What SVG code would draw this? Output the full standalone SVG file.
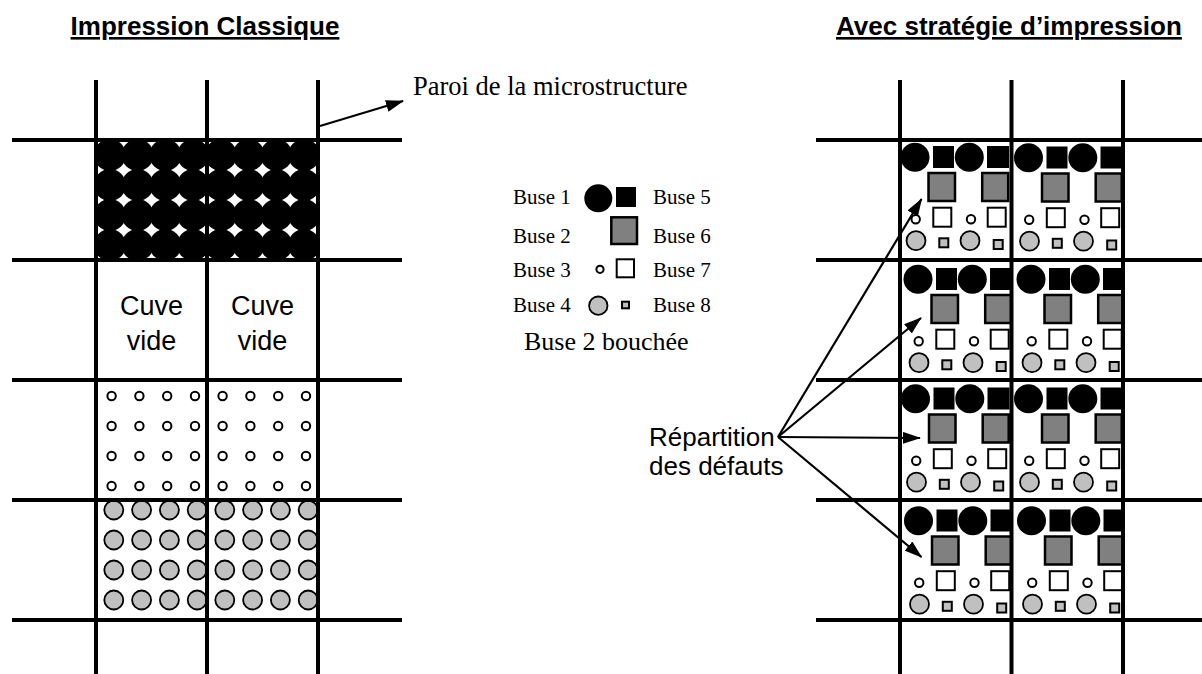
<svg xmlns="http://www.w3.org/2000/svg" xmlns:xlink="http://www.w3.org/1999/xlink" width="1202" height="674" viewBox="0 0 1202 674">
<style>
.grid line{stroke:#000;stroke-width:4;fill:none}
.conn{stroke:#000;stroke-width:2.2;fill:none;marker-end:url(#ah)}
.sans{font-family:"Liberation Sans",Arial,sans-serif;fill:#000}
.serif{font-family:"Liberation Serif","Times New Roman",serif;fill:#000}
.title{font-weight:bold;font-size:26px;text-decoration:underline}
.blk{fill:#000}
.wc{fill:#fff;stroke:#000;stroke-width:2}
.gc{fill:#c0c0c0;stroke:#000;stroke-width:1.8}
.gs{fill:#808080;stroke:#000;stroke-width:2.5}
.ws{fill:#fff;stroke:#000;stroke-width:2}
.sgs{fill:#c0c0c0;stroke:#000;stroke-width:2}
</style>
<defs>
<marker id="ah" markerUnits="userSpaceOnUse" markerWidth="18" markerHeight="12" viewBox="0 0 18 12" refX="17" refY="6" orient="auto"><path d="M0,0 L18,6 L0,12 z" fill="#000"/></marker>
<clipPath id="clipBlack"><rect x="96" y="140" width="222" height="120"/></clipPath>
<clipPath id="clipGray"><rect x="96" y="500" width="222" height="120"/></clipPath>
<clipPath id="cc"><rect x="0" y="0" width="111.5" height="120"/></clipPath>
<g id="blkrow"><circle cx="13.9" cy="0" r="16"/><circle cx="41.6" cy="0" r="16"/><circle cx="69.4" cy="0" r="16"/><circle cx="97.1" cy="0" r="16"/></g>
<g id="wrow"><circle cx="15.6" cy="0" r="4.2"/><circle cx="43.4" cy="0" r="4.2"/><circle cx="71.2" cy="0" r="4.2"/><circle cx="99" cy="0" r="4.2"/></g>
<g id="grow"><circle cx="17.8" cy="0" r="9.5"/><circle cx="45.6" cy="0" r="9.5"/><circle cx="73.4" cy="0" r="9.5"/><circle cx="101.2" cy="0" r="9.5"/></g>
<g id="pat">
<circle class="blk" cx="15" cy="17.3" r="14.5"/>
<rect class="blk" x="33" y="6" width="21" height="22"/>
<circle class="blk" cx="69.3" cy="17.3" r="14.5"/>
<rect class="blk" x="87" y="6" width="22" height="22"/>
<rect class="gs" x="28.5" y="33" width="26.5" height="28"/>
<rect class="gs" x="82.2" y="33" width="26" height="28"/>
<circle class="wc" cx="15.7" cy="79.3" r="4.2"/>
<rect class="ws" x="33.3" y="67.7" width="18" height="19"/>
<circle class="wc" cx="71" cy="79.3" r="4.2"/>
<rect class="ws" x="87.7" y="67.7" width="18" height="19"/>
<circle class="gc" cx="16" cy="100.7" r="9.5"/>
<rect class="sgs" x="39.3" y="98.3" width="9" height="9"/>
<circle class="gc" cx="70" cy="100.7" r="9.5"/>
<rect class="sgs" x="93.7" y="100" width="9" height="9"/>
</g>
</defs>
<rect width="1202" height="674" fill="#fff"/>

<g id="title-left"><text class="sans title" x="205" y="35" text-anchor="middle">Impression Classique</text></g>
<g id="title-right"><text class="sans title" x="836" y="35">Avec stratégie d’impression</text></g>

<g id="left-black" clip-path="url(#clipBlack)" class="blk">
<use xlink:href="#blkrow" x="96" y="155"/><use xlink:href="#blkrow" x="96" y="185"/><use xlink:href="#blkrow" x="96" y="215"/><use xlink:href="#blkrow" x="96" y="245"/>
<use xlink:href="#blkrow" x="207" y="155"/><use xlink:href="#blkrow" x="207" y="185"/><use xlink:href="#blkrow" x="207" y="215"/><use xlink:href="#blkrow" x="207" y="245"/>
</g>
<g id="left-empty">
<text class="sans" font-size="27" x="151.5" y="315" text-anchor="middle">Cuve</text>
<text class="sans" font-size="27" x="151.5" y="350" text-anchor="middle">vide</text>
<text class="sans" font-size="27" x="262.5" y="315" text-anchor="middle">Cuve</text>
<text class="sans" font-size="27" x="262.5" y="350" text-anchor="middle">vide</text>
</g>
<g id="left-white" class="wc">
<use xlink:href="#wrow" x="96" y="396"/><use xlink:href="#wrow" x="96" y="426"/><use xlink:href="#wrow" x="96" y="456"/><use xlink:href="#wrow" x="96" y="486"/>
<use xlink:href="#wrow" x="207" y="396"/><use xlink:href="#wrow" x="207" y="426"/><use xlink:href="#wrow" x="207" y="456"/><use xlink:href="#wrow" x="207" y="486"/>
</g>
<g id="left-gray" class="gc" clip-path="url(#clipGray)">
<use xlink:href="#grow" x="96" y="510"/><use xlink:href="#grow" x="96" y="540"/><use xlink:href="#grow" x="96" y="570"/><use xlink:href="#grow" x="96" y="600"/>
<use xlink:href="#grow" x="207" y="510"/><use xlink:href="#grow" x="207" y="540"/><use xlink:href="#grow" x="207" y="570"/><use xlink:href="#grow" x="207" y="600"/>
</g>

<g id="right-cells">
<g id="cell-r1c1" transform="translate(900,140)"><g clip-path="url(#cc)"><use xlink:href="#pat" x="0" y="0"/></g></g>
<g id="cell-r1c2" transform="translate(1011.5,140)"><g clip-path="url(#cc)"><use xlink:href="#pat" x="2" y="0.5"/></g></g>
<g id="cell-r2c1" transform="translate(900,260)"><g clip-path="url(#cc)"><use xlink:href="#pat" x="3" y="2"/></g></g>
<g id="cell-r2c2" transform="translate(1011.5,260)"><g clip-path="url(#cc)"><use xlink:href="#pat" x="4.5" y="2"/></g></g>
<g id="cell-r3c1" transform="translate(900,380)"><g clip-path="url(#cc)"><use xlink:href="#pat" x="0.5" y="1.5"/></g></g>
<g id="cell-r3c2" transform="translate(1011.5,380)"><g clip-path="url(#cc)"><use xlink:href="#pat" x="2" y="1.5"/></g></g>
<g id="cell-r4c1" transform="translate(900,500)"><g clip-path="url(#cc)"><use xlink:href="#pat" x="3.5" y="3.5"/></g></g>
<g id="cell-r4c2" transform="translate(1011.5,500)"><g clip-path="url(#cc)"><use xlink:href="#pat" x="5" y="3.5"/></g></g>
</g>

<g id="grid-left" class="grid">
<line x1="12" y1="140" x2="402" y2="140"/><line x1="12" y1="260" x2="402" y2="260"/><line x1="12" y1="380" x2="402" y2="380"/><line x1="12" y1="500" x2="402" y2="500"/><line x1="12" y1="620" x2="402" y2="620"/>
<line x1="96" y1="80" x2="96" y2="674"/><line x1="207" y1="80" x2="207" y2="674"/><line x1="318" y1="80" x2="318" y2="674"/>
</g>
<g id="grid-right" class="grid">
<line x1="816" y1="140" x2="1202" y2="140"/><line x1="816" y1="260" x2="1202" y2="260"/><line x1="816" y1="380" x2="1202" y2="380"/><line x1="816" y1="500" x2="1202" y2="500"/><line x1="816" y1="620" x2="1202" y2="620"/>
<line x1="900" y1="80" x2="900" y2="674"/><line x1="1011.5" y1="80" x2="1011.5" y2="674"/><line x1="1123" y1="80" x2="1123" y2="674"/>
</g>

<g id="legend">
<text class="serif" font-size="21" x="513" y="204">Buse 1</text>
<text class="serif" font-size="21" x="513" y="243">Buse 2</text>
<text class="serif" font-size="21" x="513" y="277">Buse 3</text>
<text class="serif" font-size="21" x="513" y="312">Buse 4</text>
<text class="serif" font-size="21" x="653" y="204">Buse 5</text>
<text class="serif" font-size="21" x="653" y="243">Buse 6</text>
<text class="serif" font-size="21" x="653" y="277">Buse 7</text>
<text class="serif" font-size="21" x="653" y="312">Buse 8</text>
<circle class="blk" cx="598.3" cy="198.3" r="14"/>
<rect class="blk" x="616" y="187" width="20" height="20"/>
<rect class="gs" x="611.3" y="217.3" width="25.7" height="26.7"/>
<circle class="wc" cx="600" cy="269.3" r="3.6"/>
<rect class="ws" x="616.7" y="259.3" width="17.3" height="18"/>
<circle class="gc" cx="598.3" cy="305.7" r="9.2"/>
<rect class="sgs" x="622" y="301.7" width="7" height="6.6"/>
<text class="serif" font-size="26" x="524" y="350">Buse 2 bouchée</text>
</g>

<g id="label-paroi"><text class="serif" font-size="26.5" x="413" y="95">Paroi de la microstructure</text></g>
<g id="label-repartition">
<text class="sans" font-size="26" x="649" y="446">Répartition</text>
<text class="sans" font-size="26" x="649" y="475">des défauts</text>
</g>

<g id="connectors">
<line class="conn" x1="320" y1="126" x2="403" y2="101"/>
<line class="conn" x1="778" y1="437" x2="921.5" y2="199"/>
<line class="conn" x1="778" y1="437" x2="921" y2="318"/>
<line class="conn" x1="778" y1="437" x2="920" y2="438"/>
<line class="conn" x1="778" y1="437" x2="921.5" y2="557"/>
</g>
</svg>
